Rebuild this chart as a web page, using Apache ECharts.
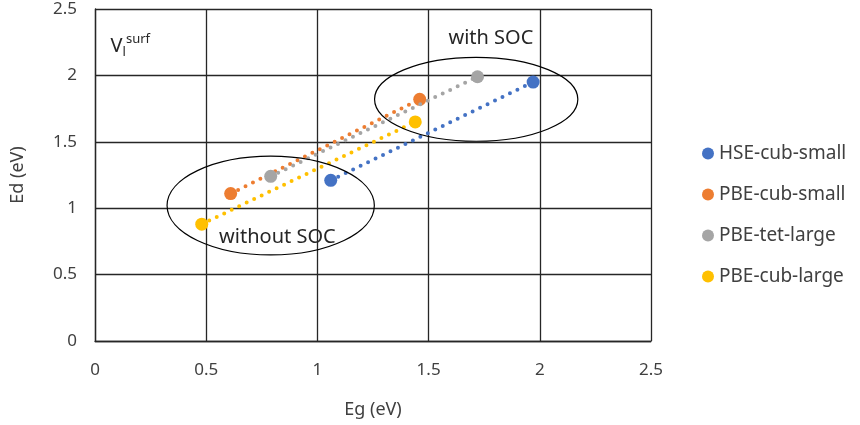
<!DOCTYPE html>
<html><head><meta charset="utf-8">
<script src="https://cdn.jsdelivr.net/npm/echarts@6/dist/echarts.min.js"></script>
<style>html,body{margin:0;padding:0;background:#fff}#c{width:860px;height:425px}</style>
</head><body><div id="c"></div>
<script>
const seriesNames = ['HSE-cub-small','PBE-cub-small','PBE-tet-large','PBE-cub-large'];
const colors = ['#4472C4','#ED7D31','#A5A5A5','#FFC000'];
const hseCubSmall = [[1.06,1.21],[1.97,1.95]];
const pbeCubSmall = [[0.61,1.11],[1.46,1.82]];
const pbeTetLarge = [[0.79,1.24],[1.72,1.99]];
const pbeCubLarge = [[0.48,0.88],[1.44,1.65]];
const seriesData = [hseCubSmall,pbeCubSmall,pbeTetLarge,pbeCubLarge];
const xTicks = [0,0.5,1,1.5,2,2.5];
const yTicks = [0,0.5,1,1.5,2,2.5];
// annotation ellipses in data units: [cx, cy, rx, ry]
const ellipseWithout = [0.79,1.02,0.466,0.372];
const ellipseWith = [1.714,1.82,0.457,0.316];
const labelWithout = [0.82,0.78,'without SOC'];
const labelWith = [1.78,2.28,'with SOC'];
const labelV = [0.07,2.22];

const FONT = 'Noto Sans';
const chart = echarts.init(document.getElementById('c'));
const option = {
  animation:false,
  textStyle:{fontFamily:FONT},
  grid:{left:95,right:209,top:9,bottom:84},
  xAxis:{type:'value',min:0,max:2.5,interval:0.5,
    name:'Eg (eV)',nameLocation:'middle',nameGap:60,
    nameTextStyle:{color:'#404040',fontSize:18,fontFamily:FONT},
    axisLine:{show:true,lineStyle:{color:'#262626',width:1.3}},
    axisTick:{show:false},
    axisLabel:{color:'#404040',fontSize:17,margin:21,formatter:v=>String(v)},
    splitLine:{show:true,lineStyle:{color:'#262626',width:1.3}}},
  yAxis:{type:'value',min:0,max:2.5,interval:0.5,
    name:'Ed (eV)',nameLocation:'middle',nameGap:68,nameRotate:90,
    nameTextStyle:{color:'#404040',fontSize:18,fontFamily:FONT},
    axisLine:{show:true,lineStyle:{color:'#262626',width:1.3}},
    axisTick:{show:false},
    axisLabel:{color:'#404040',fontSize:17,margin:18,formatter:v=>String(v)},
    splitLine:{show:true,lineStyle:{color:'#262626',width:1.3}}},
  legend:{orient:'vertical',left:697,top:139,itemGap:22,itemWidth:12,itemHeight:12,
    icon:'circle',textStyle:{fontSize:19,color:'#404040',fontFamily:FONT},
    data:seriesNames},
  series:seriesNames.map((n,i)=>({
    name:n,type:'line',data:seriesData[i],
    symbol:'circle',symbolSize:13,
    itemStyle:{color:colors[i]},
    lineStyle:{color:colors[i],width:4,type:[0,8.3],cap:'round'},
    z:2+i
  }))
};
chart.setOption(option);
function px(p){return chart.convertToPixel({gridIndex:0},p);}
function ell(e){
  const c=px([e[0],e[1]]); const r=px([e[0]+e[2],e[1]+e[3]]);
  return {type:'ellipse',shape:{cx:c[0],cy:c[1],rx:r[0]-c[0],ry:c[1]-r[1]},
    style:{fill:'none',stroke:'#000',lineWidth:1.2},z:10};
}
function txt(l){const p=px([l[0],l[1]]);
  return {type:'text',x:p[0],y:p[1],style:{text:l[2],fill:'#262626',font:'20px "'+FONT+'"',align:'center',verticalAlign:'middle'},z:11};}
const vp=px(labelV);
chart.setOption({graphic:[ell(ellipseWithout),ell(ellipseWith),txt(labelWithout),txt(labelWith),
  {type:'text',x:vp[0],y:vp[1],z:11,style:{text:'{v|V}{s|l}{p|surf}',fill:'#262626',
    rich:{v:{fontSize:20,fontFamily:FONT,color:'#262626'},
          s:{fontSize:13,fontFamily:FONT,color:'#262626',padding:[12,0,0,0]},
          p:{fontSize:13,fontFamily:FONT,color:'#262626',padding:[0,0,14,0]}},verticalAlign:'middle'}}]});
</script></body></html>
